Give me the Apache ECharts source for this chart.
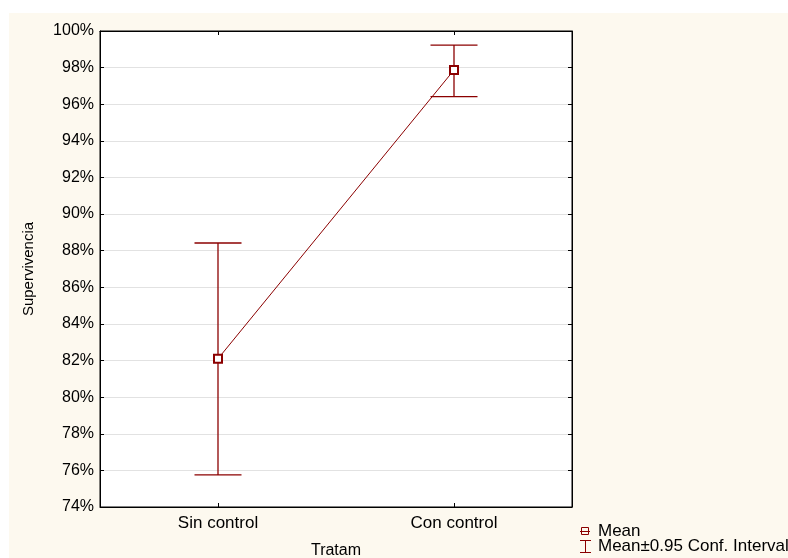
<!DOCTYPE html>
<html>
<head>
<meta charset="utf-8">
<script src="https://cdn.jsdelivr.net/npm/echarts@6/dist/echarts.min.js"></script>
<style>
html,body{margin:0;padding:0;background:#fff;}
#wrap{position:relative;width:788px;height:558px;overflow:hidden;}
#bg{position:absolute;left:9px;top:13px;right:0;bottom:0;background:#fdf9ef;}
#chart{position:absolute;left:0;top:0;width:788px;height:558px;}
</style>
</head>
<body>
<div id="wrap"><div id="bg"></div><div id="chart"></div></div>
<script>
const categories = ['Sin control', 'Con control'];
const meanValues = [82.1, 97.87];
const lowerCI = [75.75, 96.42];
const upperCI = [88.42, 99.23];
const yTicks = {min: 74, max: 100, interval: 2};

const RED = '#8b0000';
const FONT = 'Liberation Sans, Arial, sans-serif';

const chart = echarts.init(document.getElementById('chart'));
const errData = categories.map((c, i) => [i, lowerCI[i], upperCI[i]]);

chart.setOption({
  backgroundColor: 'transparent',
  animation: false,
  grid: {left: 100, top: 31, width: 472, height: 476, show: true, backgroundColor: '#fff', borderColor: '#000', borderWidth: 1, containLabel: false, outerBoundsMode: 'none'},
  xAxis: [{
    type: 'category', data: categories, boundaryGap: true, position: 'bottom',
    name: 'Tratam', nameLocation: 'middle', nameGap: 36,
    nameTextStyle: {color: '#000', fontSize: 16, fontFamily: FONT},
    axisLine: {show: true, lineStyle: {color: '#000'}},
    axisTick: {show: true, inside: true, alignWithLabel: true, length: 4, lineStyle: {color: '#000'}},
    axisLabel: {color: '#000', fontSize: 17, fontFamily: FONT, margin: 8},
    splitLine: {show: false}
  }, {
    type: 'category', data: categories, boundaryGap: true, position: 'top',
    axisLine: {show: true, lineStyle: {color: '#000'}},
    axisTick: {show: true, inside: true, alignWithLabel: true, length: 4, lineStyle: {color: '#000'}},
    axisLabel: {show: false}, splitLine: {show: false}
  }],
  yAxis: [{
    type: 'value', min: yTicks.min, max: yTicks.max, interval: yTicks.interval,
    name: 'Supervivencia', nameLocation: 'middle', nameGap: 64, nameRotate: 90,
    nameTextStyle: {color: '#000', fontSize: 15, fontFamily: FONT},
    axisLine: {show: true, lineStyle: {color: '#000'}},
    axisTick: {show: true, inside: true, length: 4, lineStyle: {color: '#000'}},
    axisLabel: {color: '#000', fontSize: 16, fontFamily: FONT, margin: 6, formatter: '{value}%'},
    splitLine: {show: true, lineStyle: {color: '#e2e2e2', width: 1}}
  }, {
    type: 'value', min: yTicks.min, max: yTicks.max, interval: yTicks.interval, position: 'right',
    axisLine: {show: true, lineStyle: {color: '#000'}},
    axisTick: {show: true, inside: true, length: 4, lineStyle: {color: '#000'}},
    axisLabel: {show: false}, splitLine: {show: false}
  }],
  series: [{
    name: 'Mean±0.95 Conf. Interval',
    type: 'custom',
    data: errData,
    z: 3,
    renderItem: function (params, api) {
      const x = api.coord([api.value(0), 0])[0];
      const lo = api.coord([api.value(0), api.value(1)])[1];
      const hi = api.coord([api.value(0), api.value(2)])[1];
      const hw = 23.5;
      const st = {stroke: RED, lineWidth: 1.3, fill: null};
      return {type: 'group', children: [
        {type: 'line', shape: {x1: x, y1: lo, x2: x, y2: hi}, style: st},
        {type: 'line', shape: {x1: x - hw, y1: lo, x2: x + hw, y2: lo}, style: st},
        {type: 'line', shape: {x1: x - hw, y1: hi, x2: x + hw, y2: hi}, style: st}
      ]};
    }
  }, {
    name: 'Mean',
    type: 'line',
    data: meanValues,
    z: 4,
    symbol: 'emptyRect', symbolSize: 8,
    lineStyle: {color: RED, width: 1},
    itemStyle: {color: RED, borderColor: RED, borderWidth: 1}
  }],
  graphic: [
    {type: 'rect', x: 581.5, y: 527.5, shape: {width: 7, height: 7}, style: {fill: 'none', stroke: RED, lineWidth: 1}},
    {type: 'line', shape: {x1: 580, y1: 531.5, x2: 590, y2: 531.5}, style: {stroke: RED, lineWidth: 1}},
    {type: 'text', x: 598, y: 531, style: {text: 'Mean', fill: '#000', font: '17px ' + FONT, verticalAlign: 'middle'}},
    {type: 'line', shape: {x1: 585.5, y1: 540, x2: 585.5, y2: 553}, style: {stroke: RED, lineWidth: 1}},
    {type: 'line', shape: {x1: 580, y1: 540.5, x2: 591, y2: 540.5}, style: {stroke: RED, lineWidth: 1}},
    {type: 'line', shape: {x1: 580, y1: 552.5, x2: 591, y2: 552.5}, style: {stroke: RED, lineWidth: 1}},
    {type: 'text', x: 598, y: 546, style: {text: 'Mean±0.95 Conf. Interval', fill: '#000', font: '17px ' + FONT, verticalAlign: 'middle'}}
  ]
});
</script>
</body>
</html>
